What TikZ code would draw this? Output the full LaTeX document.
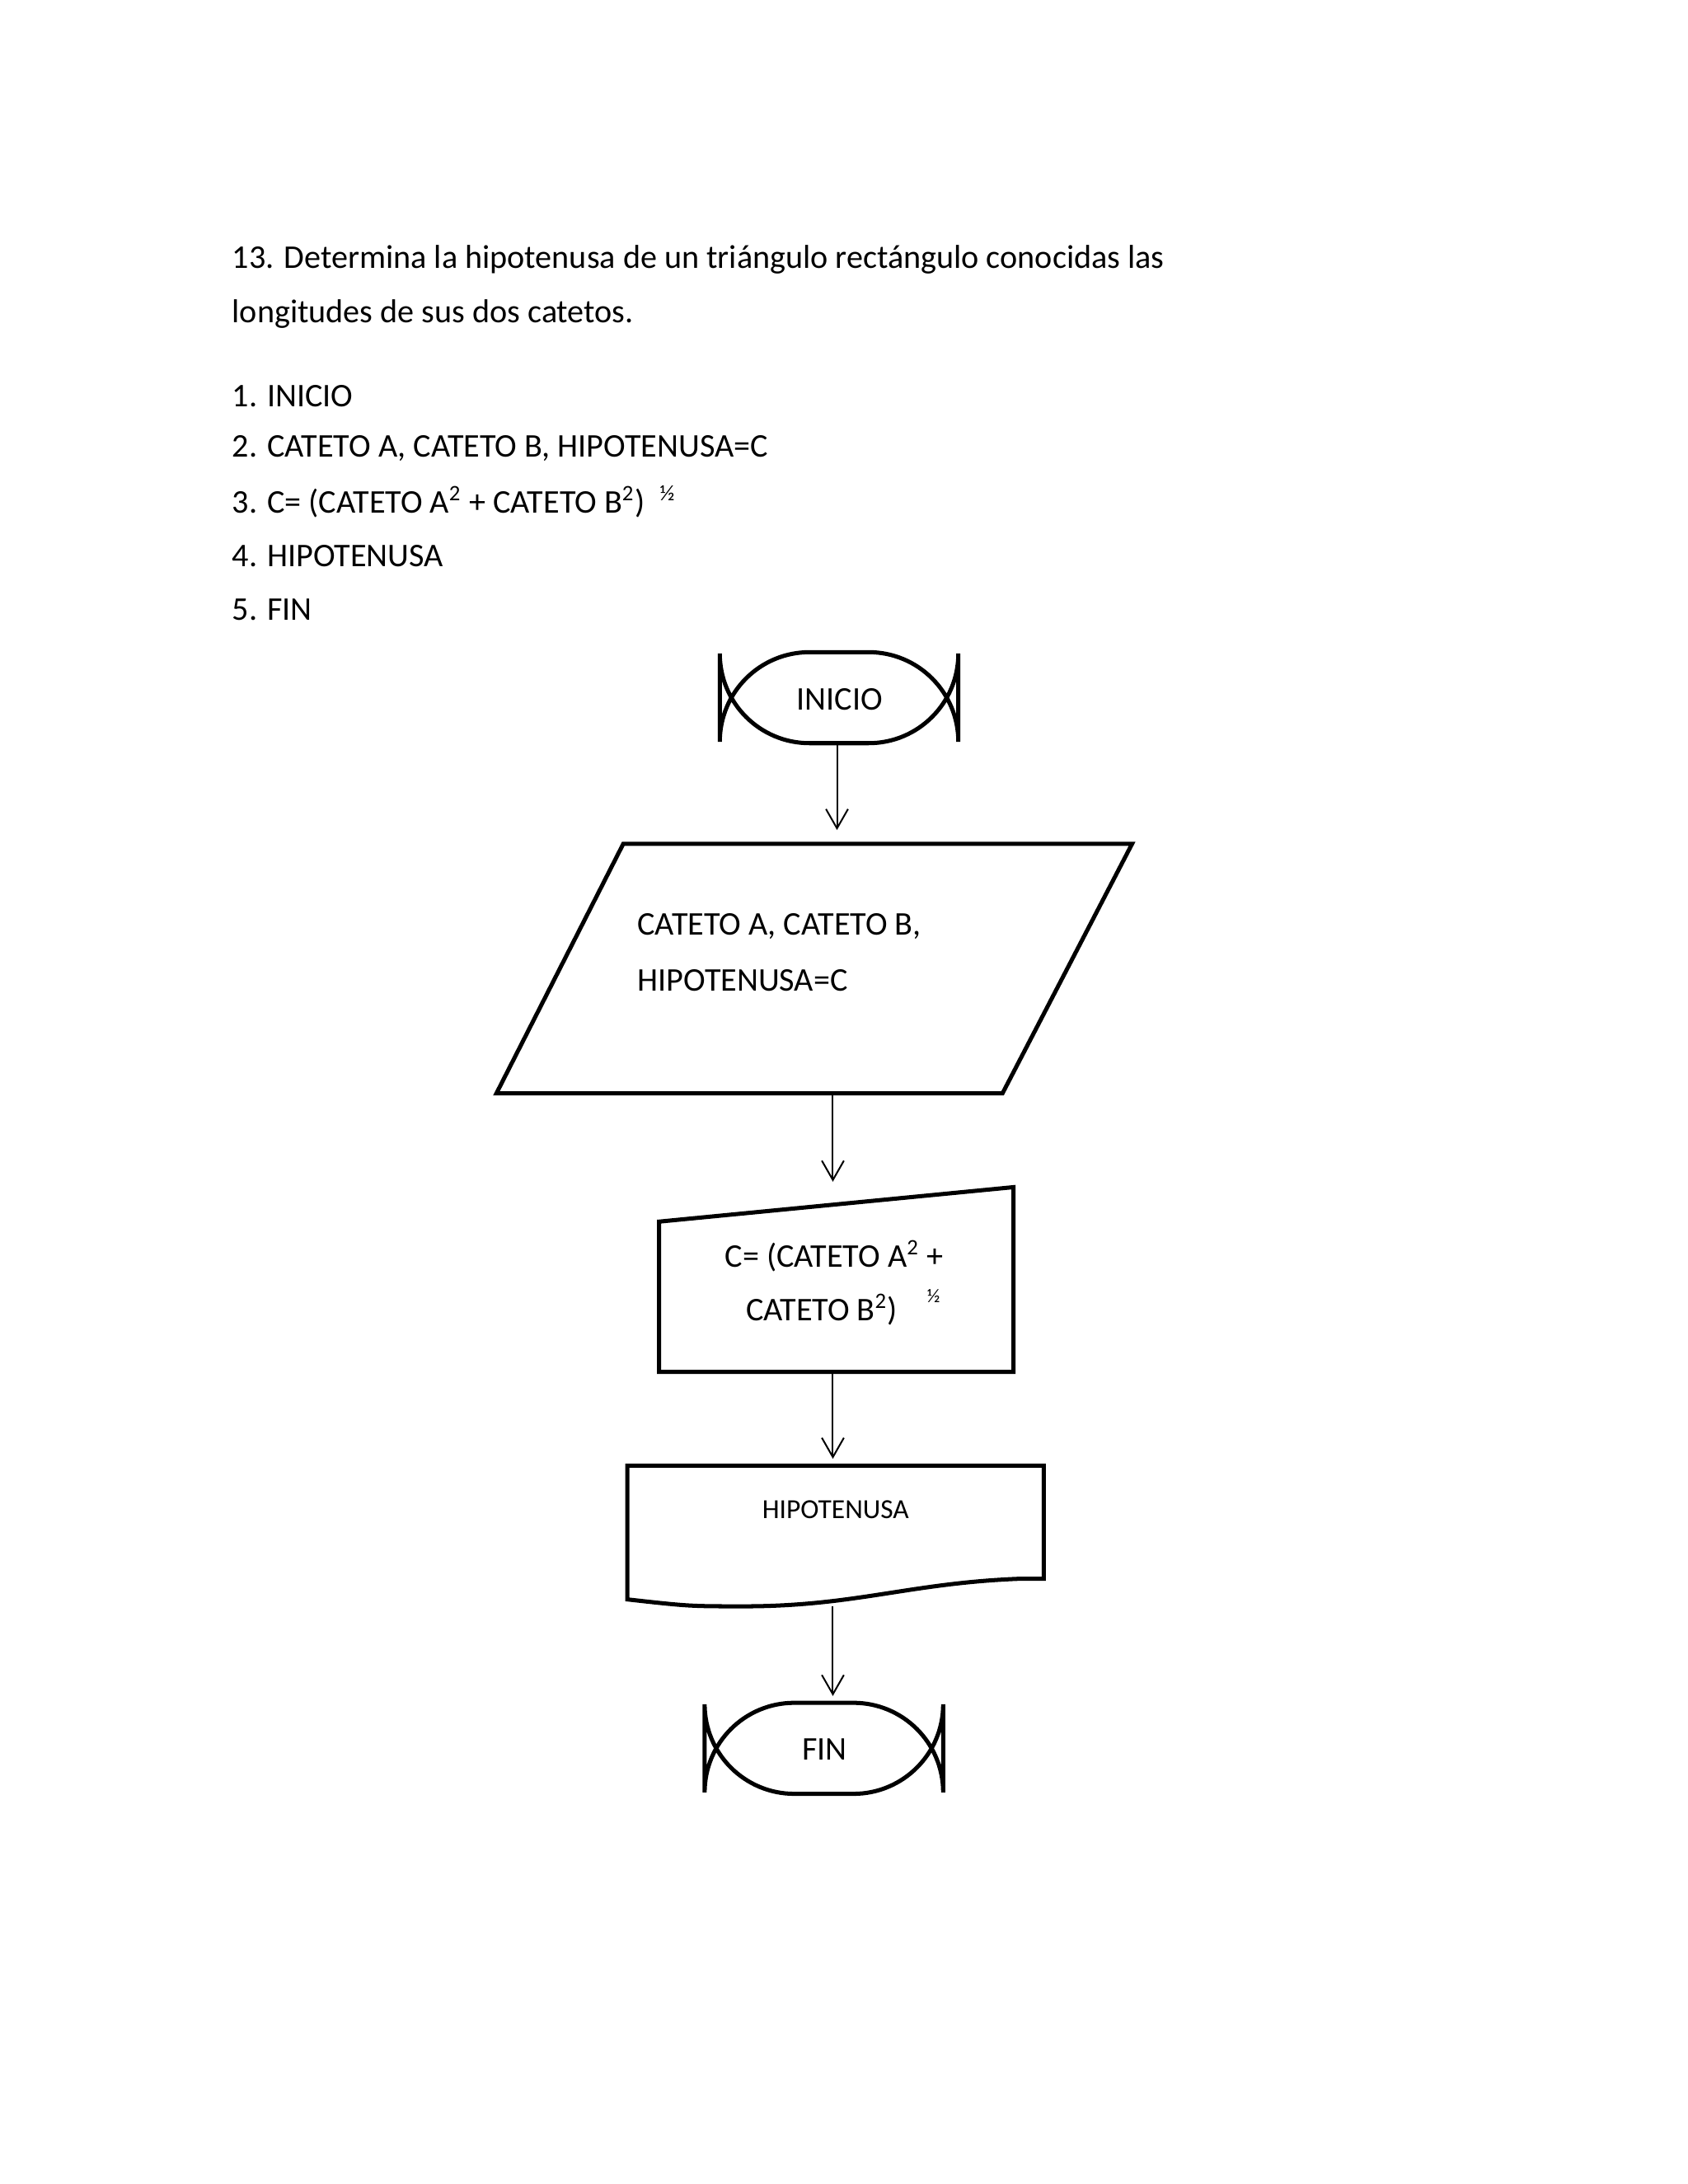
\documentclass[tikz,border=0pt]{standalone}
\usepackage{fontspec}
\setmainfont{Carlito}
\usetikzlibrary{arrows.meta}
\begin{document}
\begin{tikzpicture}[x=0.5pt,y=-0.5pt,
  shp/.style={line width=1.5pt},
  arr/.style={line width=0.6pt,-{Straight Barb[length=7pt,width=8pt]}},
  txt/.style={inner sep=0pt,font=\fontsize{12}{14}\selectfont},
  ltxt/.style={txt,anchor=west}]
\useasboundingbox (0,0) rectangle (1224,1584);
\node[ltxt] (t1) at (168,188) {13. Determina la hipotenusa de un triángulo rectángulo conocidas las};
\node[ltxt] (t2) at (168,228) {longitudes de sus dos catetos.};
\node[ltxt] (s1) at (168,287) {1. INICIO};
\node[ltxt] (s2) at (168,325) {2. CATETO A, CATETO B, HIPOTENUSA=C};
\node[ltxt] (s3) at (168,364) {3. C= (CATETO A\textsuperscript{2} + CATETO B\textsuperscript{2})\ \ \textsuperscript{½}};
\node[ltxt] (s4) at (168,403) {4. HIPOTENUSA};
\node[ltxt] (s5) at (168,442) {5. FIN};
% INICIO
\draw[shp,rounded corners=32.5] (522,473) rectangle (695,539);
\node[txt] (ini) at (609,507) {INICIO};
\coordinate (iniB) at (607,539);
% parallelogram
\draw[shp] (452,612) -- (821,612) -- (727,793) -- (360,793) -- cycle;
\coordinate (parT) at (607,602);
\coordinate (parB) at (604,793);
\node[ltxt] (p1) at (462,672) {CATETO A, CATETO B,};
\node[ltxt] (p2) at (462,711) {HIPOTENUSA=C};
% manual input
\draw[shp] (478,886) -- (735,861) -- (735,995) -- (478,995) -- cycle;
\coordinate (manT) at (604,857);
\coordinate (manB) at (604,995);
\node[txt] (m1) at (605,911) {C= (CATETO A\textsuperscript{2} +};
\node[txt] (m2) at (596,950) {CATETO B\textsuperscript{2})};
\node[txt,font=\fontsize{7}{8}\selectfont] (m3) at (677,940) {½};
% document
\draw[shp] (455,1063) -- (757,1063) -- (757,1145) -- (740,1145)
  .. controls (660,1148) and (620,1165) .. (540,1165)
  .. controls (500,1165) .. (455,1160) -- cycle;
\coordinate (docT) at (604,1058);
\coordinate (docB) at (604,1165);
\node[txt,font=\fontsize{10}{12}\selectfont] (d1) at (606,1095) {HIPOTENUSA};
% FIN
\draw[shp,rounded corners=32.5] (511,1235) rectangle (684,1301);
\node[txt] (fin) at (598,1269) {FIN};
\coordinate (finT) at (604,1230);
% arrows
\draw[arr] (iniB) -- (parT);
\draw[arr] (parB) -- (manT);
\draw[arr] (manB) -- (docT);
\draw[arr] (docB) -- (finT);
\end{tikzpicture}
\end{document}
